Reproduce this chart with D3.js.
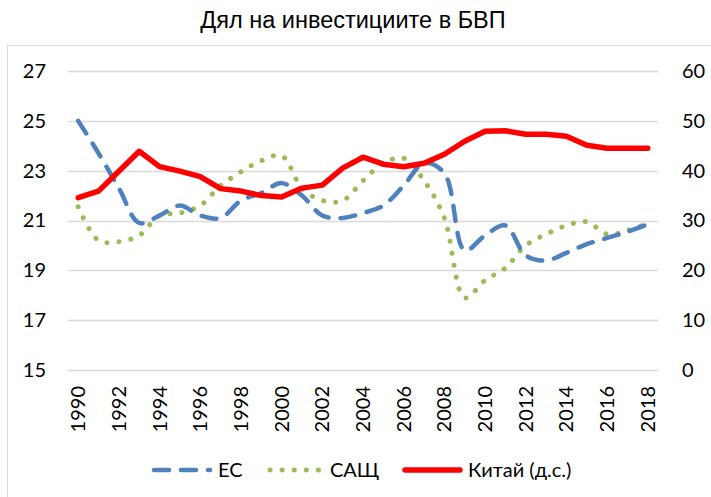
<!DOCTYPE html>
<html>
<head>
<meta charset="utf-8">
<script src="https://cdn.jsdelivr.net/npm/d3@7"></script>
<style>
  body { margin: 0; background: #fff; }
  text { fill: #000; }
</style>
</head>
<body>
<svg id="chart" width="711" height="497"></svg>
<script>
// years on the category axis
const years = d3.range(1990, 2019);
const yearLabels = years.filter((y) => y % 2 === 0);

// left axis, % of GDP
const eu = [25.0, 23.7, 22.3, 20.9, 21.2, 21.6, 21.2, 21.1, 21.8, 22.1, 22.5, 22.0, 21.2, 21.1, 21.3, 21.6,
  22.4, 23.3, 22.9, 19.8, 20.4, 20.8, 19.6, 19.4, 19.7, 20.05, 20.3, 20.55, 20.85];
const usa = [21.55, 20.2, 20.15, 20.4, 21.2, 21.3, 21.6, 22.4, 22.95, 23.4, 23.6, 22.3, 21.8, 21.8, 22.6, 23.3,
  23.5, 22.6, 21.1, 17.9, 18.6, 19.1, 20.0, 20.45, 20.8, 20.95, 20.45, 20.6, 20.9];
// right axis (д.с.)
const china = [34.6, 35.9, 39.9, 43.9, 40.8, 39.9, 38.8, 36.4, 35.9, 35.0, 34.7, 36.5, 37.1, 40.5, 42.7, 41.3,
  40.8, 41.5, 43.3, 45.9, 47.9, 48.0, 47.3, 47.3, 46.9, 45.1, 44.5, 44.5, 44.5];

const leftTicks = [15, 17, 19, 21, 23, 25, 27];
const rightTicks = [0, 10, 20, 30, 40, 50, 60];

const svg = d3.select('#chart');
const font = 'Lato, Carlito, Calibri, sans-serif';

const x = d3.scaleBand().domain(years).range([68, 658]).padding(0);
const cx = (y) => x(y) + x.bandwidth() / 2;
const yL = d3.scaleLinear().domain([15, 27]).range([370, 71]);
const yR = d3.scaleLinear().domain([0, 60]).range([370, 71]);

// frame of the chart area (only left and top edges fall in the picture)
svg.append('rect')
  .attr('x', 7.5).attr('y', 45.5).attr('width', 760).attr('height', 500)
  .attr('fill', 'none').attr('stroke', '#d9d9d9');

svg.append('text')
  .attr('x', 353).attr('y', 28)
  .attr('text-anchor', 'middle')
  .style('font-family', 'Liberation Sans, Arial, sans-serif')
  .style('font-size', '23.5px')
  .text('Дял на инвестициите в БВП');

// gridlines
svg.append('g')
  .selectAll('line')
  .data(leftTicks)
  .join('line')
  .attr('x1', 68).attr('x2', 658)
  .attr('y1', (d) => Math.round(yL(d)) + 0.5)
  .attr('y2', (d) => Math.round(yL(d)) + 0.5)
  .attr('stroke', '#d9d9d9').attr('stroke-width', 1.3);

// left axis
const axL = svg.append('g')
  .attr('transform', 'translate(46,0)')
  .call(d3.axisLeft(yL).tickValues(leftTicks).tickSize(0).tickPadding(0));
axL.select('.domain').remove();
axL.selectAll('text').style('font-family', font).style('font-size', '20px').attr('fill', '#000');

// right axis
const axR = svg.append('g')
  .attr('transform', 'translate(682,0)')
  .call(d3.axisRight(yR).tickValues(rightTicks).tickSize(0).tickPadding(0));
axR.select('.domain').remove();
axR.selectAll('text').style('font-family', font).style('font-size', '20px').attr('fill', '#000');

// year labels, rotated
const axX = svg.append('g')
  .attr('transform', 'translate(0,370)')
  .call(d3.axisBottom(x).tickValues(yearLabels).tickSize(0));
axX.select('.domain').remove();
axX.selectAll('text')
  .style('font-family', font).style('font-size', '20px').attr('fill', '#000')
  .attr('transform', 'rotate(-90)')
  .attr('text-anchor', 'end')
  .attr('x', -16).attr('y', 0).attr('dy', '0.35em');

// series
const lineL = d3.line().x((d, i) => cx(years[i])).y((d) => yL(d)).curve(d3.curveCatmullRom.alpha(0.5));
const lineR = d3.line().x((d, i) => cx(years[i])).y((d) => yR(d));

const styles = {
  eu: {color: '#4f81bd', width: 4.5, dash: '15,12'},
  usa: {color: '#9bbb59', width: 5, dash: '0.1,12'},
  china: {color: '#ff0000', width: 5.5, dash: null}
};

svg.append('path').datum(usa)
  .attr('d', lineL).attr('fill', 'none')
  .attr('stroke', styles.usa.color).attr('stroke-width', styles.usa.width)
  .attr('stroke-dasharray', styles.usa.dash).attr('stroke-linecap', 'round');

svg.append('path').datum(eu)
  .attr('d', lineL).attr('fill', 'none')
  .attr('stroke', styles.eu.color).attr('stroke-width', styles.eu.width)
  .attr('stroke-dasharray', styles.eu.dash).attr('stroke-linecap', 'round');

svg.append('path').datum(china)
  .attr('d', lineR).attr('fill', 'none')
  .attr('stroke', styles.china.color).attr('stroke-width', styles.china.width)
  .attr('stroke-linejoin', 'round').attr('stroke-linecap', 'round');

// legend
const legend = [
  {name: 'ЕС', s: styles.eu, x1: 154, x2: 210, tx: 218},
  {name: 'САЩ', s: styles.usa, x1: 270, x2: 322, tx: 330},
  {name: 'Китай (д.с.)', s: styles.china, x1: 405, x2: 460, tx: 468}
];
const lg = svg.append('g').selectAll('g').data(legend).join('g');
lg.append('line')
  .attr('x1', (d) => d.x1).attr('x2', (d) => d.x2)
  .attr('y1', 470).attr('y2', 470)
  .attr('stroke', (d) => d.s.color).attr('stroke-width', (d) => d.s.width)
  .attr('stroke-dasharray', (d) => d.s.dash).attr('stroke-linecap', 'round');
lg.append('text')
  .attr('x', (d) => d.tx).attr('y', 470).attr('dy', '0.35em')
  .style('font-family', font).style('font-size', '20px')
  .text((d) => d.name);
</script>
</body>
</html>
